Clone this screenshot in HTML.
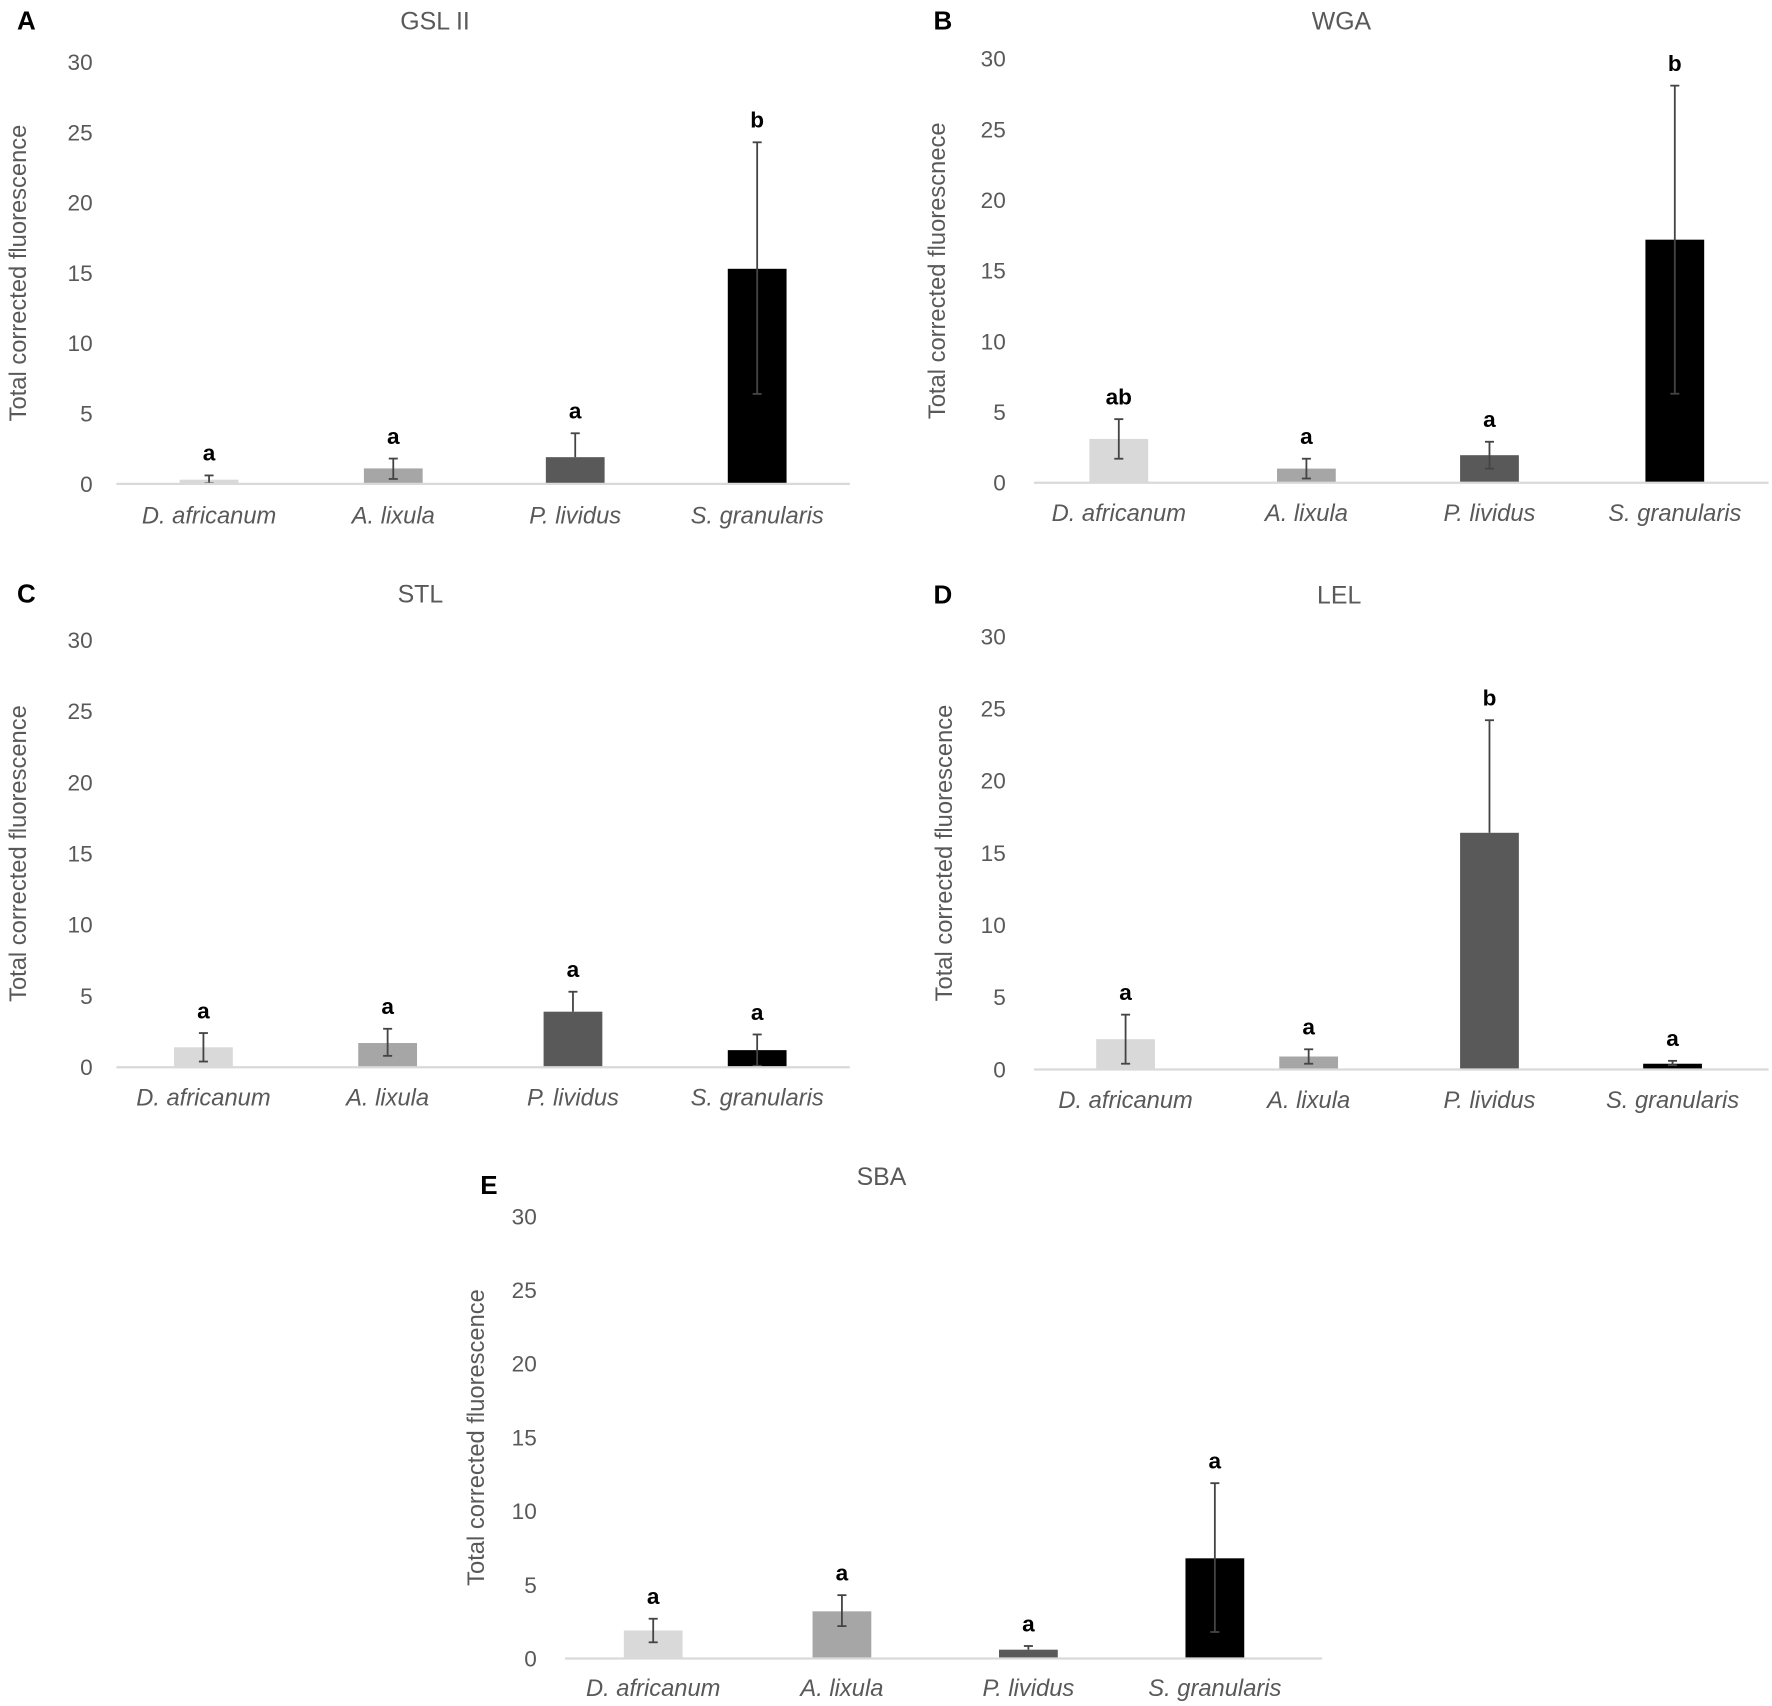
<!DOCTYPE html>
<html><head><meta charset="utf-8">
<style>html,body{margin:0;padding:0;background:#fff}svg{display:block}</style></head>
<body>
<svg id="fig" width="1772" height="1706" viewBox="0 0 1568 1509" preserveAspectRatio="none" xmlns="http://www.w3.org/2000/svg" font-family="Liberation Sans, sans-serif"></svg>
<script>
const categories = ["D. africanum","A. lixula","P. lividus","S. granularis"];
const yTicks = [0,5,10,15,20,25,30];
const colors = ["#d9d9d9","#a6a6a6","#595959","#000000"];
const gslValues = [0.3,1.1,1.9,15.3];
const gslLow = [0.05,0.35,1.9,6.4];
const gslHigh = [0.6,1.8,3.6,24.3];
const gslLetters = ["a","a","a","b"];
const wgaValues = [3.1,1.0,1.95,17.2];
const wgaLow = [1.7,0.3,1.0,6.3];
const wgaHigh = [4.5,1.7,2.9,28.1];
const wgaLetters = ["ab","a","a","b"];
const stlValues = [1.4,1.7,3.9,1.2];
const stlLow = [0.4,0.8,3.9,0.1];
const stlHigh = [2.4,2.7,5.3,2.3];
const stlLetters = ["a","a","a","a"];
const lelValues = [2.1,0.9,16.4,0.4];
const lelLow = [0.4,0.4,16.4,0.3];
const lelHigh = [3.8,1.4,24.2,0.6];
const lelLetters = ["a","a","b","a"];
const sbaValues = [1.9,3.2,0.6,6.8];
const sbaLow = [1.1,2.2,0.6,1.8];
const sbaHigh = [2.7,4.3,0.85,11.9];
const sbaLetters = ["a","a","a","a"];

const NS="http://www.w3.org/2000/svg";
const svg=document.getElementById('fig');
function mk(tag,attrs,parent,text){const e=document.createElementNS(NS,tag);for(const k in attrs)e.setAttribute(k,attrs[k]);if(text!==undefined)e.textContent=text;(parent||svg).appendChild(e);return e;}

const panels=[
 {id:"a",panel:"A",title:"GSL II",yTitle:"Total corrected fluorescence",vals:gslValues,lo:gslLow,hi:gslHigh,let:gslLetters,
  px:15,py:18,tx:385,ty:18,x0:103,x1:752,y30:55,y0:428,cx:[185,348,509,670],tickX:82,ytX:17,xlY:463},
 {id:"b",panel:"B",title:"WGA",yTitle:"Total  corrected fluorescnece",vals:wgaValues,lo:wgaLow,hi:wgaHigh,let:wgaLetters,
  px:826,py:18,tx:1187,ty:18,x0:915,x1:1565,y30:52,y0:427,cx:[990,1156,1318,1482],tickX:890,ytX:830,xlY:461},
 {id:"c",panel:"C",title:"STL",yTitle:"Total corrected fluorescence",vals:stlValues,lo:stlLow,hi:stlHigh,let:stlLetters,
  px:15,py:525,tx:372,ty:525,x0:103,x1:752,y30:566,y0:944,cx:[180,343,507,670],tickX:82,ytX:17,xlY:978},
 {id:"d",panel:"D",title:"LEL",yTitle:"Total corrected fluorescence",vals:lelValues,lo:lelLow,hi:lelHigh,let:lelLetters,
  px:826,py:526,tx:1185,ty:526,x0:915,x1:1565,y30:563,y0:946,cx:[996,1158,1318,1480],tickX:890,ytX:836,xlY:980},
 {id:"e",panel:"E",title:"SBA",yTitle:"Total corrected fluorescence",vals:sbaValues,lo:sbaLow,hi:sbaHigh,let:sbaLetters,
  px:425,py:1048,tx:780,ty:1040,x0:500,x1:1170,y30:1076,y0:1467,cx:[578,745,910,1075],tickX:475,ytX:422,xlY:1500}
];

panels.forEach(p=>{
 const g=mk('g',{});
 
 
 const yS=v=>p.y0-(v/30)*(p.y0-p.y30);
 const lab=mk('text',{x:p.px,y:p.py+8,'font-size':23,'font-weight':'bold',fill:'#000'},g,p.panel);
 
 
 const t=mk('text',{x:p.tx,y:p.ty+8,'font-size':22,fill:'#595959','text-anchor':'middle'},g,p.title);
 
 
 const yc=(p.y30+p.y0)/2;
 const yt=mk('text',{x:p.ytX,y:yc,'font-size':21,fill:'#595959','text-anchor':'middle',transform:`rotate(-90 ${p.ytX} ${yc})`,'dominant-baseline':'central'},g,p.yTitle);
 
 
 yTicks.forEach(v=>{
  const tk=mk('text',{x:p.tickX,y:yS(v)+7,'font-size':20,fill:'#595959','text-anchor':'end'},g,String(v));
  
  
 });
 const bw=52;
 p.vals.forEach((v,i)=>{
  const cx=p.cx[i];
  const r=mk('rect',{x:cx-bw/2,y:yS(v),width:bw,height:yS(0)-yS(v),fill:colors[i]},g);
  
  
  const eg=mk('g',{stroke:'#444','stroke-width':1.6},g);
  
  
  mk('line',{x1:cx,x2:cx,y1:yS(p.lo[i]),y2:yS(p.hi[i])},eg);
  mk('line',{x1:cx-4,x2:cx+4,y1:yS(p.hi[i]),y2:yS(p.hi[i])},eg);
  if(p.lo[i]<v) mk('line',{x1:cx-4,x2:cx+4,y1:yS(p.lo[i]),y2:yS(p.lo[i])},eg);
  const l=mk('text',{x:cx,y:yS(p.hi[i])-13,'font-size':20,'font-weight':'bold',fill:'#000','text-anchor':'middle'},g,p.let[i]);
  
  
  const xl=mk('text',{x:cx,y:p.xlY,'font-size':21,'font-style':'italic',fill:'#595959','text-anchor':'middle'},g,categories[i]);
  
  
 });
 const ax=mk('line',{x1:p.x0,x2:p.x1,y1:p.y0,y2:p.y0,stroke:'#d9d9d9','stroke-width':2},g);
 
 
});
</script>
</body></html>
